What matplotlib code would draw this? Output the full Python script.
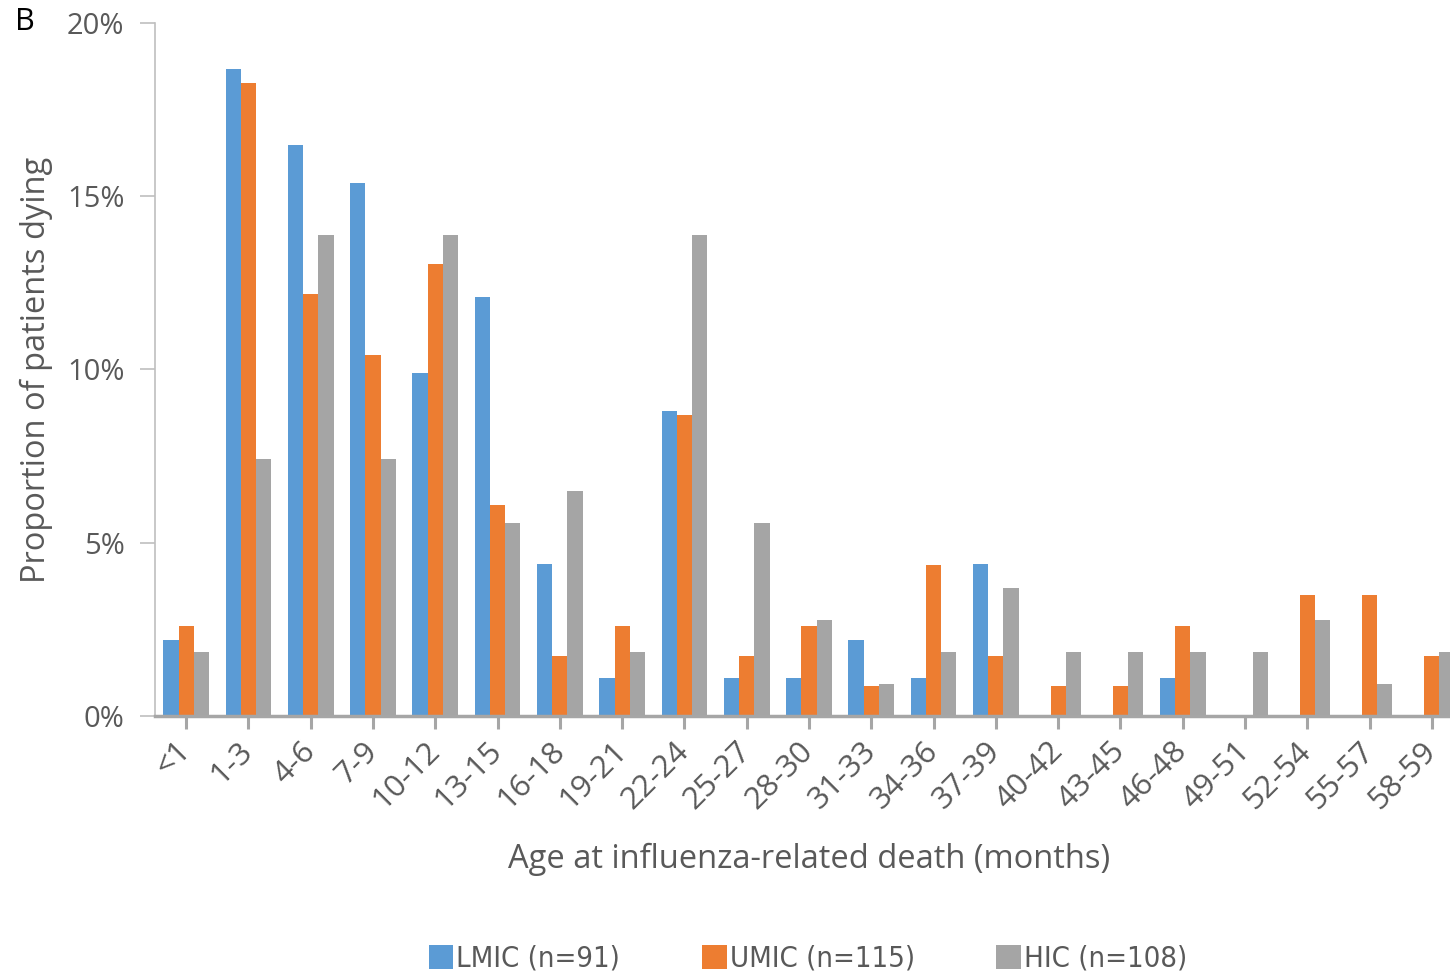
import matplotlib
matplotlib.use("Agg")
import matplotlib.pyplot as plt
import matplotlib.transforms as mtransforms
import numpy as np

# Age groups (months) at influenza-related death
age_groups = ["<1", "1-3", "4-6", "7-9", "10-12", "13-15", "16-18", "19-21",
              "22-24", "25-27", "28-30", "31-33", "34-36", "37-39", "40-42",
              "43-45", "46-48", "49-51", "52-54", "55-57", "58-59"]

# Proportion of patients dying in each age group (%)
lmic = [2.20, 18.68, 16.48, 15.38, 9.89, 12.09, 4.40, 1.10, 8.79, 1.10, 1.10,
        2.20, 1.10, 4.40, 0.00, 0.00, 1.10, 0.00, 0.00, 0.00, 0.00]
umic = [2.61, 18.26, 12.17, 10.43, 13.04, 6.09, 1.74, 2.61, 8.70, 1.74, 2.61,
        0.87, 4.35, 1.74, 0.87, 0.87, 2.61, 0.00, 3.48, 3.48, 1.74]
hic = [1.85, 7.41, 13.89, 7.41, 13.89, 5.56, 6.48, 1.85, 13.89, 5.56, 2.78,
       0.93, 1.85, 3.70, 1.85, 1.85, 1.85, 1.85, 2.78, 0.93, 1.85]

series_labels = ["LMIC (n=91)", "UMIC (n=115)", "HIC (n=108)"]
series_colors = ["#5B9BD5", "#ED7D31", "#A5A5A5"]
y_ticks = [0, 5, 10, 15, 20]

TEXT = "#595959"
plt.rcParams["font.family"] = ["Open Sans", "DejaVu Sans"]

fig = plt.figure(figsize=(14.5, 9.76), dpi=100)
ax = fig.add_axes([155 / 1450, 1 - 716 / 976, (1463 - 155) / 1450, (716 - 23) / 976])

x = np.arange(len(age_groups))
w = 0.245
for k, (vals, lab, col) in enumerate(zip([lmic, umic, hic], series_labels, series_colors)):
    ax.bar(x + (k - 1) * w, vals, width=w, color=col, label=lab, zorder=2,
           linewidth=0)

ax.set_xlim(-0.5, len(age_groups) - 0.5)
ax.set_ylim(0, 20)
ax.set_yticks(y_ticks)
ax.set_yticklabels([f"{t}%" for t in y_ticks])
ax.set_xticks(x)
ax.set_xticklabels(age_groups, rotation=45, ha="right", va="center",
                   rotation_mode="anchor")

# nudge the slanted category labels slightly right of their ticks
shift = mtransforms.ScaledTranslation(6 / 100, -2 / 100, fig.dpi_scale_trans)
for lbl in ax.get_xticklabels():
    lbl.set_transform(lbl.get_transform() + shift)

for s in ["top", "right"]:
    ax.spines[s].set_visible(False)
ax.spines["left"].set_color("#BFBFBF")
ax.spines["left"].set_linewidth(1.2)
ax.spines["bottom"].set_color("#A6A6A6")
ax.spines["bottom"].set_linewidth(2.5)
ax.spines["bottom"].set_zorder(3)

ax.tick_params(axis="y", length=11, width=1.2, color="#BFBFBF", labelsize=21,
               labelcolor=TEXT, pad=11)
ax.tick_params(axis="x", length=9, width=2.2, color="#A6A6A6", labelsize=22.5,
               labelcolor=TEXT, pad=13)

ax.set_ylabel("Proportion of patients dying", fontsize=23.5, color=TEXT, labelpad=10)
ax.set_xlabel("Age at influenza-related death (months)", fontsize=23.5, color=TEXT,
              labelpad=20)

fig.text(25 / 1450, 1 - 22 / 976, "B", fontsize=22, color="black",
         ha="center", va="center")

fig.legend(loc="center", bbox_to_anchor=(808 / 1450, 1 - 959 / 976), ncol=3,
           frameon=False, handlelength=0.85, handleheight=0.85, handletextpad=0.1,
           columnspacing=2.8,
           prop={"family": "DejaVu Sans", "stretch": "condensed", "size": 21},
           labelcolor=TEXT)

fig.savefig("out.png", dpi=100)
